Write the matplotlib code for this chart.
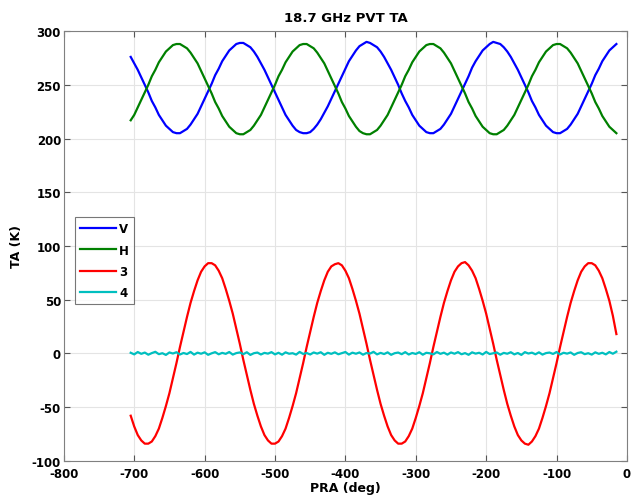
import numpy as np
import matplotlib
matplotlib.use('Agg')
import matplotlib.pyplot as plt

plt.rcParams['font.family'] = ['DejaVu Sans']
plt.rcParams['font.weight'] = 'bold'
plt.rcParams['axes.unicode_minus'] = False

# PRA angle (deg), sampled every 5 deg from -705 to -15
pra = np.arange(-705, -14, 5)

ta_v = [276, 270, 264, 257, 250, 243, 235, 229, 222, 217, 212, 209, 206, 205, 205, 207, 209, 213,
        218, 223, 230, 237, 244, 251, 259, 265, 272, 277, 282, 285, 288, 289, 289, 287, 285, 281,
        276, 270, 264, 257, 250, 243, 236, 229, 222, 217, 212, 208, 206, 205, 205, 206, 209, 213,
        218, 224, 230, 237, 244, 251, 258, 265, 272, 277, 282, 286, 288, 290, 289, 287, 285, 281,
        276, 270, 264, 257, 250, 242, 235, 229, 222, 217, 212, 209, 206, 205, 205, 207, 209, 213,
        218, 223, 230, 237, 244, 251, 258, 266, 272, 277, 282, 285, 288, 290, 289, 288, 285, 281,
        276, 270, 264, 257, 250, 243, 235, 229, 222, 217, 212, 209, 206, 205, 205, 207, 209, 213,
        218, 223, 230, 237, 244, 251, 259, 265, 272, 277, 282, 285, 288]
ta_h = [217, 222, 229, 236, 243, 250, 258, 264, 271, 276, 281, 284, 287, 288, 288, 286, 284, 280,
        275, 270, 263, 256, 249, 242, 234, 228, 221, 216, 211, 208, 205, 204, 204, 206, 208, 212,
        217, 222, 229, 236, 243, 250, 258, 264, 271, 276, 281, 284, 287, 288, 288, 286, 284, 280,
        275, 270, 263, 256, 249, 242, 234, 228, 221, 216, 211, 207, 205, 204, 204, 206, 208, 212,
        217, 222, 229, 236, 243, 250, 258, 264, 271, 276, 281, 284, 287, 288, 288, 286, 284, 280,
        275, 270, 263, 256, 249, 242, 234, 228, 221, 216, 211, 208, 205, 204, 204, 206, 208, 212,
        217, 222, 229, 236, 243, 250, 258, 264, 271, 276, 281, 284, 287, 288, 288, 286, 284, 280,
        275, 270, 263, 256, 249, 242, 234, 228, 221, 216, 211, 208, 205]
ta_3 = [-58, -68, -76, -81, -84, -84, -82, -77, -70, -60, -49, -37, -23, -9, 6, 20, 34, 47,
        58, 68, 76, 81, 84, 84, 82, 77, 70, 60, 49, 37, 23, 9, -6, -20, -34, -47,
        -58, -68, -76, -81, -84, -84, -82, -77, -70, -60, -49, -37, -23, -9, 6, 20, 34, 47,
        58, 68, 76, 81, 83, 84, 82, 77, 70, 60, 49, 37, 23, 9, -6, -20, -34, -47,
        -58, -68, -76, -81, -84, -84, -82, -77, -70, -60, -49, -37, -23, -9, 6, 20, 34, 47,
        58, 68, 76, 81, 84, 85, 82, 77, 70, 60, 49, 37, 23, 9, -6, -20, -34, -47,
        -58, -68, -76, -81, -84, -85, -82, -77, -70, -60, -49, -37, -23, -9, 6, 20, 34, 47,
        58, 68, 76, 81, 84, 84, 82, 77, 70, 60, 49, 35, 18]
ta_4 = [0.6, -0.9, 1.3, -0.4, 0.8, -1.2, 0.3, 1.5, -0.7, 0.2, -1.4, 0.9, -0.1, 1.1, -1.0, 0.4, -0.6, 1.4, -1.1, 0.7,
        -0.3, 1.0, -1.3, 0.1, 1.2, -0.8, 0.5, -0.4, 1.3, -1.1, 0.3, 0.9, -0.7, 1.1, -1.4, 0.2, 0.8, -1.0, 0.5, -0.2,
        1.2, -0.9, 0.6, -1.2, 1.0, -0.3, 0.2, -1.1, 1.4, -0.5, 0.4, -1.0, 0.9, -0.2, 1.1, -1.3, 0.6, -0.4, 1.0, -0.8,
        0.3, 1.3, -1.1, 0.7, -0.3, 0.9, -1.2, 0.4, -0.2, 1.5, -0.9, 0.5, -0.6, 1.0, -1.3, 0.2, 0.8, -0.7, 1.2, -1.0,
        0.4, -0.5, 1.1, -1.2, 0.6, 0.1, -0.9, 1.3, -0.4, 0.7, -1.1, 0.9, -0.3, 1.2, -0.8, 0.3, -1.3, 1.0, -0.2, 0.6,
        -1.0, 1.4, -0.6, 0.2, 0.9, -1.2, 0.5, -0.3, 1.1, -0.9, 0.4, -1.4, 1.2, -0.1, 0.7, -0.8, 1.0, -1.1, 0.3, 0.8,
        -0.5, 1.3, -1.0, 0.6, -0.2, 0.9, -1.3, 0.4, 1.1, -0.7, 0.2, -1.1, 1.0, -0.4, 0.6, -0.9, 1.3, -0.3, 1.6]

fig = plt.figure(figsize=(6.32, 5.02), dpi=100)
ax = fig.add_axes([0.101, 0.080, 0.891, 0.856])

ax.plot(pra, ta_v, color=(0, 0, 1), lw=1.6, label='V')
ax.plot(pra, ta_h, color=(0, 0.5, 0), lw=1.6, label='H')
ax.plot(pra, ta_3, color=(1, 0, 0), lw=1.6, label='3')
ax.plot(pra, ta_4, color=(0, 0.75, 0.75), lw=1.6, label='4')

ax.set_xlim(-800, 0)
ax.set_ylim(-100, 300)
ax.set_xticks(np.arange(-800, 1, 100))
ax.set_yticks(np.arange(-100, 301, 50))
ax.grid(True, color='#e4e4e4', lw=0.8)
ax.set_axisbelow(True)
ax.tick_params(direction='in', top=True, right=True, labelsize=8.5, length=4,
               color='#555555')
ax.tick_params(axis='y', pad=2)
ax.tick_params(axis='x', pad=4.5)
for sp in ax.spines.values():
    sp.set_color('#808080')

ax.set_title('18.7 GHz PVT TA', fontsize=9.5, fontweight='bold', pad=7)
ax.set_xlabel('PRA (deg)', fontsize=9, fontweight='bold', labelpad=1)
ax.set_ylabel('TA (K)', fontsize=9, fontweight='bold', labelpad=6)

leg = ax.legend(loc='lower left', bbox_to_anchor=(0.0195, 0.364), borderaxespad=0,
                fancybox=False, edgecolor='#555555', fontsize=8.5, handlelength=3.0,
                handletextpad=0.3, borderpad=0.45, labelspacing=0.7)
leg.get_frame().set_linewidth(0.8)

fig.savefig('out.png', dpi=100)
